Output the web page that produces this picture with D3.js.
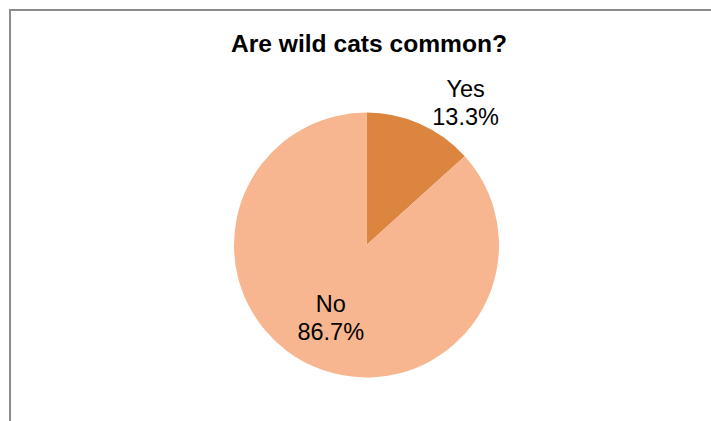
<!DOCTYPE html>
<html>
<head>
<meta charset="utf-8">
<script src="https://cdn.jsdelivr.net/npm/d3@7"></script>
<style>
  html, body { margin: 0; padding: 0; background: #fff; }
  svg { display: block; }
</style>
</head>
<body>
<svg id="chart" width="711" height="421"></svg>
<script>
// ---- data ----
const chartTitle = "Are wild cats common?";
const categories = ["Yes", "No"];
const values = [13.3, 86.7];
const percentLabels = ["13.3%", "86.7%"];
const colors = ["#db853f", "#f8b690"];

// ---- layout ----
const W = 711, H = 421;
const cx = 366.5, cy = 245, R = 132.5;
// label placement: angle (deg, clockwise from 12 o'clock) and radius factor
const labelPlacement = [
  { angleDeg: 36.4, radiusFactor: 1.26 },   // outside end (Yes)
  { angleDeg: null, radiusFactor: 0.665 }   // best fit: along slice mid-angle (No)
];

const svg = d3.select("#chart");

// border
svg.append("rect")
  .attr("x", 10).attr("y", 10)
  .attr("width", W + 20).attr("height", H + 20)
  .attr("fill", "none")
  .attr("stroke", "#8c8c8c")
  .attr("stroke-width", 2);

// title
svg.append("text")
  .attr("x", 369).attr("y", 52)
  .attr("text-anchor", "middle")
  .attr("font-family", "Liberation Sans, Arial, sans-serif")
  .attr("font-weight", "bold")
  .attr("font-size", 24.6)
  .attr("fill", "#000")
  .text(chartTitle);

const data = categories.map((c, i) => ({ category: c, value: values[i], label: percentLabels[i], color: colors[i], place: labelPlacement[i] }));

const pie = d3.pie().sort(null).value(d => d.value);
const arcs = pie(data);
const arc = d3.arc().innerRadius(0).outerRadius(R);

const g = svg.append("g").attr("transform", `translate(${cx},${cy})`);

g.selectAll("path.slice")
  .data(arcs)
  .enter().append("path")
  .attr("class", "slice")
  .attr("d", arc)
  .attr("fill", d => d.data.color)
  .attr("stroke", "none");

// labels
const labels = g.selectAll("text.lbl")
  .data(arcs)
  .enter().append("text")
  .attr("class", "lbl")
  .attr("text-anchor", "middle")
  .attr("font-family", "Liberation Sans, Arial, sans-serif")
  .attr("font-size", 23.5)
  .attr("fill", "#000")
  .each(function(d) {
    const p = d.data.place;
    const a = p.angleDeg === null ? (d.startAngle + d.endAngle) / 2 : p.angleDeg * Math.PI / 180;
    const rr = R * p.radiusFactor;
    const x = Math.sin(a) * rr;
    const y = -Math.cos(a) * rr;
    const t = d3.select(this);
    t.append("tspan").attr("x", x).attr("y", y - 14).text(d.data.category);
    t.append("tspan").attr("x", x).attr("y", y + 14).text(d.data.label);
  });
</script>
</body>
</html>
